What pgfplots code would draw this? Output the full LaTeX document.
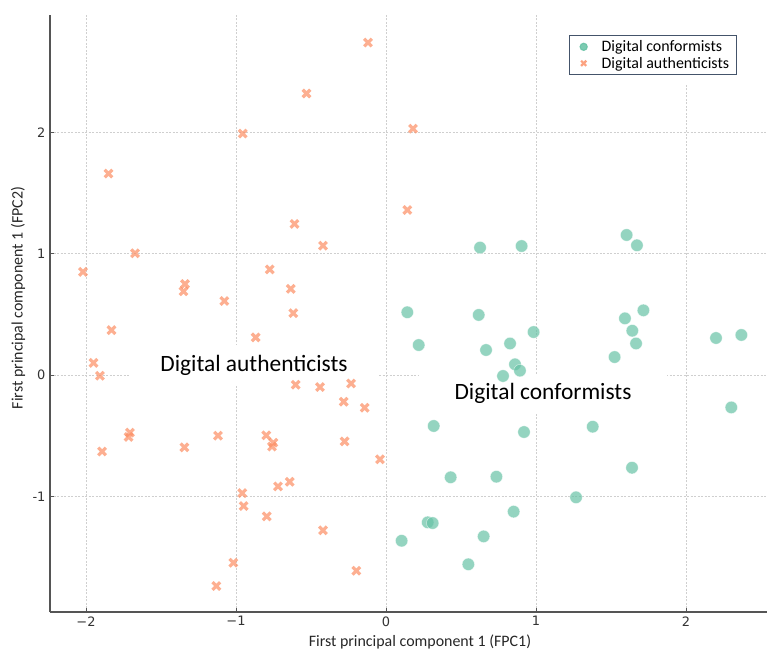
\documentclass[border=0pt]{standalone}
\usepackage{pgfplots}
\pgfplotsset{compat=1.18}
\usepackage{fontspec}
\setmainfont{Carlito}
\newfontfamily\dv{DejaVu Sans}
\definecolor{cgreen}{HTML}{66C2A5}
\definecolor{corange}{HTML}{FC8D62}
\definecolor{cframe}{HTML}{44546A}
\definecolor{cspine}{HTML}{555555}
\definecolor{cgrid}{HTML}{CFCFCF}
\begin{document}
\begin{tikzpicture}
\begin{axis}[
  at={(0,0)}, anchor=south west,
  scale only axis, width=717bp, height=597bp,
  xmin=-2.24, xmax=2.54, ymin=-1.953, ymax=2.967,
  axis x line*=bottom, axis y line*=left,
  axis line style={cspine, line width=1.3bp, -},
  xtick={-2,-1,0,1,2}, xticklabels={{−2},{−1},0,1,2},
  ytick={-1,0,1,2}, yticklabels={-1,0,1,2},
  tick align=inside, major tick length=4bp,
  tick style={cspine, line width=0.8bp},
  tick label style={font=\dv\fontsize{13}{15}\selectfont, text=black!80},
  xticklabel style={yshift=-1bp},
  yticklabel style={xshift=-1bp},
  grid=major,
  major grid style={cgrid, line width=0.6bp, dash pattern=on 2bp off 1.5bp},
  xlabel={First principal component 1 (FPC1)},
  ylabel={First principal component 1 (FPC2)},
  label style={font=\fontsize{16}{18}\selectfont, text=black!85},
  xlabel style={at={(axis description cs:0.516,0)}, anchor=base, yshift=-34bp},
  ylabel style={at={(axis description cs:-0.0446,0.526)}, anchor=center},
  legend style={at={(rel axis cs:0.724,0.9665)}, anchor=north west,
    draw=cframe, line width=1.1bp, font=\fontsize{16}{17}\selectfont,
    inner xsep=5bp, inner ysep=3bp, row sep=0bp},
  legend cell align=left,
]
\addplot[only marks, mark=*, mark size=6.2bp,
  mark options={fill=cgreen, draw=white, line width=0.4bp, opacity=0.7},
  legend image code/.code={\path[draw=none,fill=none] (0,0) -- (25bp,0); \fill[cgreen, opacity=0.85] (9bp,0) circle (3.6bp);}]
coordinates {
(0.627,1.05) (0.904,1.063) (1.604,1.154) (1.673,1.069)
(0.142,0.517) (0.618,0.495) (1.593,0.467) (1.716,0.533)
(0.984,0.354) (1.642,0.365) (1.667,0.26) (2.2,0.305) (2.369,0.33)
(0.218,0.247) (0.667,0.206) (0.827,0.26) (1.524,0.148)
(0.86,0.088) (0.893,0.036) (0.78,-0.008) (2.302,-0.267)
(0.318,-0.42) (0.92,-0.47) (1.378,-0.426) (1.64,-0.764)
(0.431,-0.843) (0.736,-0.838) (1.267,-1.008) (0.851,-1.126)
(0.278,-1.214) (0.311,-1.22) (0.104,-1.366) (0.651,-1.33) (0.549,-1.56)
};
\addlegendentry{Digital conformists}
\addplot[only marks, mark=x, mark size=5.4bp,
  mark options={draw=corange, line width=3.2bp, opacity=0.7},
  legend image code/.code={\path[draw=none,fill=none] (0,0) -- (25bp,0); \draw[corange, opacity=0.8, line width=2.2bp] (9bp-2.6bp,-2.6bp) -- (9bp+2.6bp,2.6bp) (9bp-2.6bp,2.6bp) -- (9bp+2.6bp,-2.6bp);}]
coordinates {
(-0.12,2.74) (-0.53,2.32) (-0.955,1.99) (-1.85,1.66) (-0.61,1.245)
(-0.42,1.066) (-1.673,1.003) (-2.02,0.85) (-0.775,0.87) (-1.34,0.75)
(-1.35,0.69) (-0.635,0.71) (-1.078,0.61) (-0.618,0.51) (-1.83,0.37)
(-0.869,0.31) (-1.95,0.10) (-1.907,-0.006) (-0.602,-0.08) (-0.44,-0.099)
(-0.233,-0.07) (-0.282,-0.22) (-0.142,-0.27) (-1.707,-0.475) (-1.716,-0.51)
(-1.893,-0.63) (-1.344,-0.596) (-1.12,-0.50) (-0.798,-0.497) (-0.751,-0.558)
(-0.76,-0.59) (-0.276,-0.547) (-0.04,-0.695) (-0.642,-0.88) (-0.72,-0.918)
(-0.958,-0.973) (-0.949,-1.08) (-0.795,-1.165) (-0.42,-1.28) (-1.018,-1.547)
(-0.198,-1.613) (-1.131,-1.739) (0.18,2.03) (0.142,1.36)
};
\addlegendentry{Digital authenticists}
\fill[white] (axis cs:1.15,2.39) rectangle (axis cs:2.54,2.967);
\node[fill=white, minimum width=248bp, minimum height=40bp, inner sep=0pt,
  font=\fontsize{23.5}{25}\selectfont] at (axis cs:-0.88,0.082) {Digital authenticists};
\node[fill=white, minimum width=248bp, minimum height=39bp, inner sep=0pt,
  font=\fontsize{23.5}{25}\selectfont] at (axis cs:1.047,-0.152) {Digital conformists};
\end{axis}
\pgfresetboundingbox
\path (-50bp,-39bp) rectangle (717bp,612bp);
\end{tikzpicture}
\end{document}
